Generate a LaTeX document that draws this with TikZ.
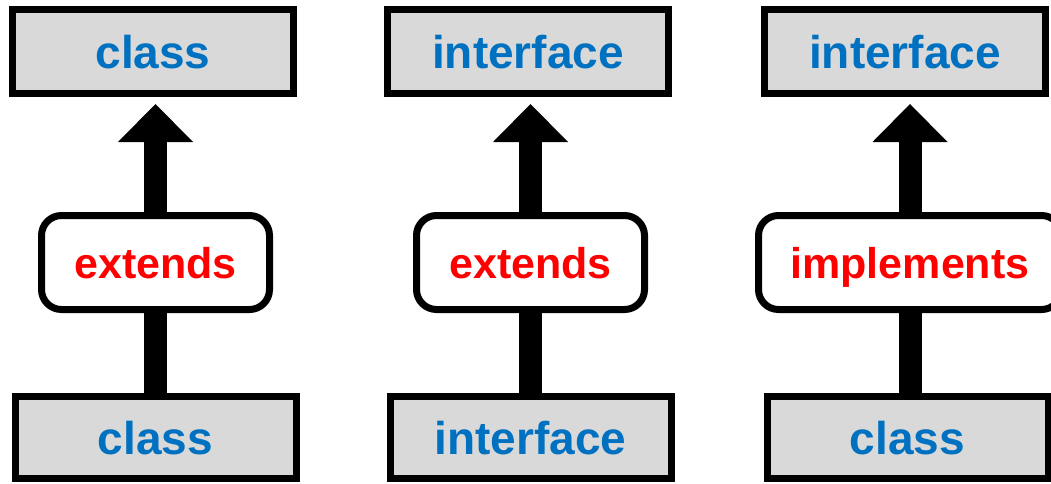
\documentclass[tikz,border=0pt]{standalone}
\usepackage{fontspec}
\newfontfamily\diagfont{Liberation Sans}
\usetikzlibrary{arrows.meta}

\definecolor{boxgray}{HTML}{D9D9D9}
\definecolor{kwblue}{HTML}{0070C0}
\definecolor{kwred}{HTML}{FF0000}

\tikzset{
  typebox/.style={draw=black, fill=boxgray, line width=7pt, inner sep=0pt,
    minimum width=281pt, font=\diagfont\bfseries\fontsize{46}{55}\selectfont,
    text=kwblue, text height=33pt, text depth=0pt},
  topbox/.style={typebox, minimum height=84pt},
  basebox/.style={typebox, minimum height=82pt},
  relbox/.style={draw=black, fill=white, line width=7pt, rounded corners=20pt,
    inner sep=0pt, minimum height=94pt,
    font=\diagfont\bfseries\fontsize{43}{52}\selectfont,
    text=kwred, text height=31pt, text depth=0pt},
  shaft/.style={line width=23pt, draw=black},
  inherit/.style={shaft, shorten >=7pt,
    -{Triangle[width=75pt, length=38pt, line width=0pt]}},
}

\begin{document}
\begin{tikzpicture}[x=1pt, y=-1pt]
  \useasboundingbox (0,0) rectangle (1051,483);
  \clip (0,0) rectangle (1051,483);

  % column 1: class extends class
  \node[topbox]  (t1) at (153,51.5)   {class};
  \node[relbox, minimum width=228pt] (r1) at (155.5,262.5) {extends};
  \node[basebox] (b1) at (155.5,437.5) {class};

  % column 2: interface extends interface
  \node[topbox]  (t2) at (528,51.5)   {interface};
  \node[relbox, minimum width=228pt] (r2) at (530.5,262.5) {extends};
  \node[basebox] (b2) at (530.5,437.5) {interface};

  % column 3: class implements interface
  \node[topbox]  (t3) at (905,51.5)   {interface};
  \node[relbox, minimum width=303pt] (r3) at (910,262.5) {implements};
  \node[basebox] (b3) at (907.5,437.5) {class};

  % connectors
  \foreach \i in {1,2,3} {
    \draw[shaft] (b\i.north -| r\i.center) -- (r\i.south);
    \draw[inherit] (r\i.north) -- (r\i.north |- t\i.south);
  }
\end{tikzpicture}
\end{document}
